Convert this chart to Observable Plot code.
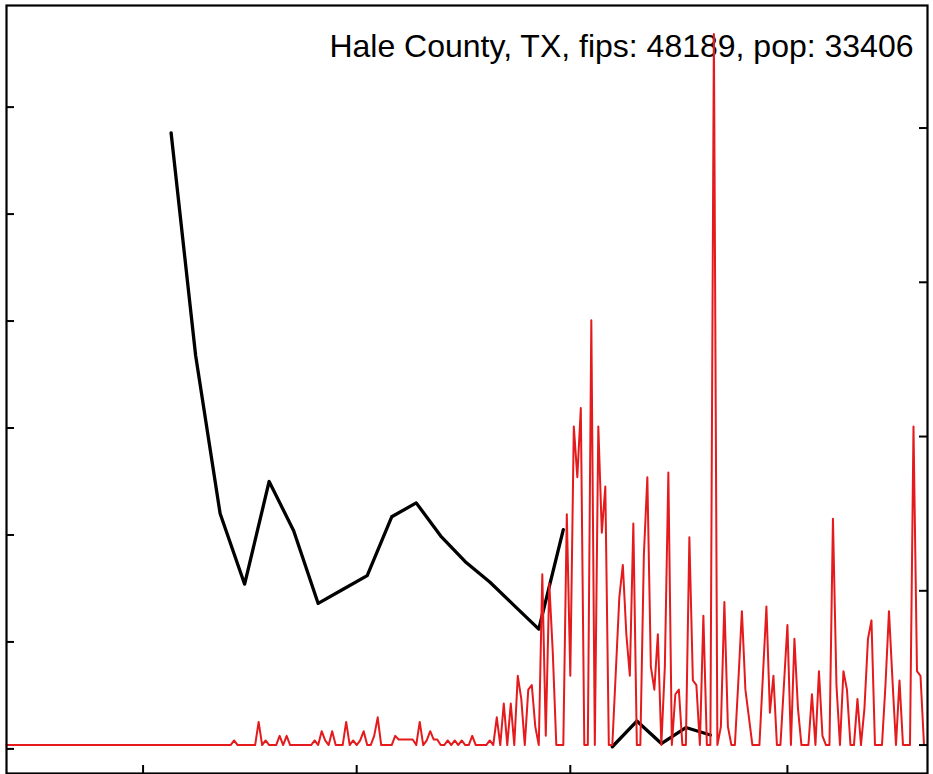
<!DOCTYPE html>
<html>
<head>
<meta charset="utf-8">
<script src="https://cdn.jsdelivr.net/npm/d3@7"></script>
<script src="https://cdn.jsdelivr.net/npm/@observablehq/plot@0.6"></script>
<style>
  html, body { margin: 0; padding: 0; background: #fff; }
  #chart { width: 933px; height: 774px; }
</style>
</head>
<body>
<div id="chart"></div>
<script>
// ---- data ----
const countyName = "Hale County, TX";
const fips = "48189";
const pop = 33406;

// daily new cases, starting 2020-01-22 (red series, right axis, per 100k)
const dailyStart = "2020-01-22";
const dailyCases = [
  0,0,0,0,0,0,0,0,0,0,
  0,0,0,0,0,0,0,0,0,0,
  0,0,0,0,0,0,0,0,0,0,
  0,0,0,0,0,0,0,0,0,0,
  0,0,0,0,0,0,0,0,0,0,
  0,0,0,0,0,0,0,0,0,0,
  0,0,0,0,0,1,0,0,0,0,
  0,0,5,0,1,0,0,0,2,0,
  2,0,0,0,0,0,0,0,1,0,
  3,1,0,3,0,0,0,5,0,1,
  0,1,3,0,0,2,6,0,0,0,
  0,2,1.2,1.2,1.2,1.2,1.2,0,5,0,
  1,3,1.2,1.2,0,0,1,0,1,0,
  1,0,0,2,0,0,0,0,1,0,
  6,0,9,0,9,0,15,10,0,12,
  13,4,0,37,2,35,20,0,0,0,
  50,15,69,58,73,0,0,92,0,69,
  46,56,0,0,16,32,39,24,15,48,
  0,0,41,58,17,12,24,0,17,59,
  0,11,12,0,0,45,14,13,0,28,
  0,0,154,0,4,31,4,0,0,14,
  29,12,6,0,0,0,15,30,7,15,
  0,0,13,26,0,23,8,0,0,0,
  11,0,16,2,0,0,49,13,0,16,
  12,0,0,10,0,8,23,27,0,0,
  0,13,29,14,0,14,0,0,0,69,
  16,15,0
];

// weekly series (black, left axis), starting 2020-03-09; null = missing week
const weeklyStart = "2020-03-09";
const weeklyValues = [
  5.76, 3.68, 2.20, 1.54, 2.50, 2.04, 1.36, 1.49, 1.62, 2.17,
  2.30, 1.99, 1.75, 1.56, 1.34, 1.12, 2.05, null, 0.02, 0.26,
  0.05, 0.20, 0.13
];

const leftTicks = [0, 1, 2, 3, 4, 5, 6];
const rightTicks = [0, 100, 200, 300, 400];
const xTicks = ["2020-03-01", "2020-05-01", "2020-07-01", "2020-09-01"];
const xDomain = ["2020-01-22", "2020-10-11"];
const leftDomain = [-0.23, 6.95];

// ---- build ----
const parse = s => new Date(s + "T00:00:00Z");
const start = parse(dailyStart);
const red = dailyCases.map((c, i) => ({date: d3.utcDay.offset(start, i), rate: c * 1e5 / pop}));
const wStart = parse(weeklyStart);
const black = weeklyValues.map((v, i) => ({date: d3.utcDay.offset(wStart, 7 * i), value: v}));

const maxRate = d3.max(red, d => d.rate);
const yDomain = [-0.04 * maxRate, 1.04 * maxRate];
const leftToY = d3.scaleLinear().domain(leftDomain).range(yDomain);

const W = 933, H = 774;
const mT = 5, mB = 1, mL = 6, mR = 6;
const innerW = W - mL - mR, innerH = H - mT - mB;
const tickLen = 8;

const title = `${countyName}, fips: ${fips}, pop: ${pop}`;

const chart = Plot.plot({
  width: W,
  height: H,
  marginTop: mT,
  marginBottom: mB,
  marginLeft: mL,
  marginRight: mR,
  style: {fontFamily: "'Liberation Sans', Arial, Helvetica, sans-serif", background: "#fff"},
  x: {type: "utc", domain: xDomain.map(parse), axis: null},
  y: {domain: yDomain, axis: null},
  marks: [
    Plot.text([title], {
      frameAnchor: "top-right", text: d => d, textAnchor: "end", lineAnchor: "top",
      dx: -14, dy: 29, fontSize: 32, fill: "#000"
    }),
    Plot.line(black, {
      x: "date", y: d => d.value == null ? NaN : leftToY(d.value),
      stroke: "#000", strokeWidth: 3.3, strokeLinejoin: "round", strokeLinecap: "round"
    }),
    Plot.line(red, {
      x: "date", y: "rate",
      stroke: "#e41a1c", strokeWidth: 2, strokeLinejoin: "round"
    }),
    Plot.ruleY(leftTicks, {y: d => leftToY(d), insetRight: innerW - tickLen, stroke: "#000", strokeWidth: 2}),
    Plot.ruleY(rightTicks, {y: d => d, insetLeft: innerW - tickLen, stroke: "#000", strokeWidth: 2}),
    Plot.ruleX(xTicks, {x: d => parse(d), insetTop: innerH - tickLen, stroke: "#000", strokeWidth: 2}),
    Plot.frame({stroke: "#000", strokeWidth: 2.2})
  ]
});

document.getElementById("chart").appendChild(chart);
</script>
</body>
</html>
